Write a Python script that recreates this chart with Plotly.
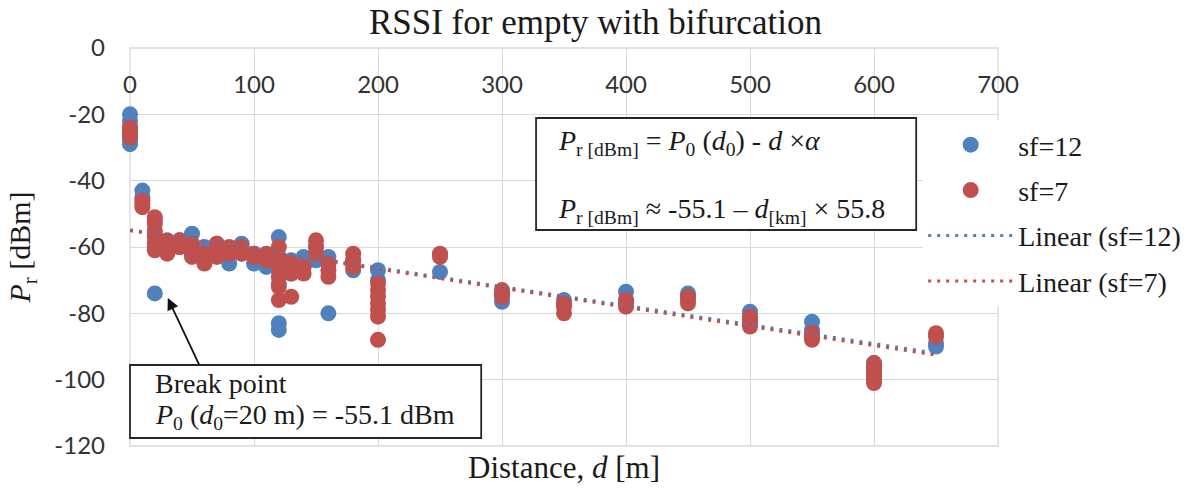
import plotly.graph_objects as go

# ---------------- data ----------------
sf12_x = [0, 0, 0, 0, 0, 0,
          10, 10,
          20, 20, 20, 20,
          30, 30, 40, 40,
          50, 50, 50, 60, 60, 70, 70, 80, 80, 90, 90,
          100, 100, 110, 110,
          120, 120, 120, 120, 120, 120,
          130, 130, 140, 140, 150, 150, 160, 160,
          180, 180, 200, 200,
          250, 300, 300, 350, 400, 400, 450, 450,
          500, 500, 550, 550, 600, 600, 650, 650]
sf12_y = [-20, -22, -24, -26, -28, -29,
          -43, -45,
          -52, -56, -60, -74,
          -59, -61, -58, -60,
          -56, -59, -62, -60, -64, -59, -62, -61, -65, -59, -62,
          -62, -65, -63, -66,
          -57, -63, -67, -71, -83, -85,
          -64, -68, -63, -66, -60, -64, -63, -80,
          -64, -67, -67, -70,
          -67.5, -74, -76.5, -76, -73.5, -76, -74, -75,
          -79.5, -82, -82.5, -85, -95, -97, -90, -89]

sf7_x = [0, 0, 0, 0,
         10, 10, 10,
         20, 20, 20, 20, 20, 20,
         25, 30, 30, 30, 40, 40,
         50, 50, 50, 60, 60, 70, 70, 70, 80, 80, 90, 90,
         100, 100, 110, 110,
         120, 120, 120, 120, 120, 120,
         130, 130, 130, 140, 140, 150, 150, 150,
         160, 160, 160, 180, 180, 180,
         200, 200, 200, 200, 200, 200, 200,
         250, 250, 300, 300, 300, 350, 350, 350,
         400, 400, 400, 450, 450, 450,
         500, 500, 500, 500, 550, 550, 550,
         600, 600, 600, 600, 600, 600, 600, 650, 650]
sf7_y = [-24, -25, -26, -27,
         -46, -47, -48,
         -51, -53, -55, -57, -59, -61,
         -60, -58, -60, -62, -58, -60,
         -59, -61, -63, -62, -65, -59, -61, -63, -60, -62, -60, -62,
         -62, -63, -62, -64,
         -60, -63, -66, -69, -72, -76,
         -65, -68, -75, -66, -68, -58, -60, -62,
         -65, -67, -69, -62, -64, -66,
         -71, -73, -75, -77, -79, -81, -88,
         -62, -63, -73, -74, -75, -77, -78, -80,
         -76, -77, -78, -75, -76, -77,
         -81, -82, -83, -84, -86, -87, -88,
         -95, -96, -97, -98, -99, -100, -101, -86, -87]

# trend lines (end points)
trend_x = [0, 650]
trend_sf12_y = [-54.8, -92.0]
trend_sf7_y = [-55.1, -92.6]

x_ticks = [0, 100, 200, 300, 400, 500, 600, 700]
x_tick_labels = ["0", "100", "200", "300", "400", "500", "600", "700"]
y_ticks = [0, -20, -40, -60, -80, -100, -120]
y_tick_labels = ["0", "-20", "-40", "-60", "-80", "-100", "-120"]

BLUE = "#4F81BD"
RED = "#C0504D"
SERIF = "Liberation Serif"
SANS = "Lato"

# ---------------- figure ----------------
fig = go.Figure()
fig.add_trace(go.Scatter(x=sf12_x, y=sf12_y, mode="markers", name="sf=12",
                         marker=dict(color=BLUE, size=16), cliponaxis=False,
                         legendgroup="a"))
fig.add_trace(go.Scatter(x=sf7_x, y=sf7_y, mode="markers", name="sf=7",
                         marker=dict(color=RED, size=16), cliponaxis=False,
                         legendgroup="b"))
fig.add_trace(go.Scatter(x=trend_x, y=trend_sf12_y, mode="lines", name="Linear (sf=12)",
                         line=dict(color=BLUE, width=3, dash="3px,6px"),
                         legendgroup="c"))
fig.add_trace(go.Scatter(x=trend_x, y=trend_sf7_y, mode="lines", name="Linear (sf=7)",
                         line=dict(color=RED, width=3, dash="3px,6px"),
                         legendgroup="d"))

L, R, T, B = 130, 198, 48, 43
W, H = 1198, 489
PW, PH = W - L - R, H - T - B


def px(xp):
    return (xp - L) / PW


def py(yp):
    return (H - B - yp) / PH


grid = "#d9d9d9"
fig.update_layout(
    width=W, height=H,
    margin=dict(l=L, r=R, t=T, b=B),
    paper_bgcolor="white", plot_bgcolor="white",
    title=dict(text="RSSI for empty with bifurcation", x=0.497, xref="container",
               y=1 - 22 / H, yref="container", yanchor="middle", xanchor="center",
               font=dict(family=SERIF, size=35, color="#1a1a1a")),
    xaxis=dict(range=[0, 700], tickvals=x_ticks, ticktext=x_tick_labels,
               side="bottom", anchor="free", position=py(64),
               ticks="", ticklabelstandoff=4, showline=False,
               showgrid=True, gridcolor=grid, gridwidth=1.3, zeroline=False,
               tickfont=dict(family=SANS, size=24, color="#333333")),
    yaxis=dict(range=[-120, 0], tickvals=y_ticks, ticktext=y_tick_labels,
               ticks="", ticklabelstandoff=24, showline=False,
               showgrid=True, gridcolor=grid, gridwidth=1.3, zeroline=False,
               tickfont=dict(family=SANS, size=24, color="#333333"),
               title=dict(text="<i>P</i><sub>r</sub> [dBm]", standoff=14,
                          font=dict(family=SERIF, size=30, color="#1a1a1a"))),
    legend=dict(x=px(925), y=py(120), xanchor="left", yanchor="top",
                bgcolor="white", borderwidth=0, traceorder="grouped",
                tracegroupgap=6, itemwidth=85,
                font=dict(family=SERIF, size=28, color="#1a1a1a")),
    showlegend=True,
)

# plot-area border (light grey like the gridlines)
fig.add_shape(type="rect", xref="paper", yref="paper", x0=0, x1=1, y0=0, y1=1,
              line=dict(color=grid, width=1.3), layer="below")

# annotation boxes
fig.add_shape(type="rect", xref="paper", yref="paper",
              x0=px(537), x1=px(918), y0=py(230), y1=py(118),
              line=dict(color="#262626", width=1.8), fillcolor="white", layer="above")
fig.add_shape(type="rect", xref="paper", yref="paper",
              x0=px(130), x1=px(482), y0=py(438), y1=py(365),
              line=dict(color="#262626", width=1.8), fillcolor="white", layer="above")

tfont = dict(family=SERIF, size=28, color="#1a1a1a")
fig.add_annotation(xref="paper", yref="paper", x=px(557), y=py(142),
                   xanchor="left", yanchor="middle", showarrow=False, font=tfont,
                   text="<i>P</i><sub>r [dBm]</sub> = <i>P</i><sub>0</sub> (<i>d</i><sub>0</sub>) - <i>d</i> ×<i>α</i>")
fig.add_annotation(xref="paper", yref="paper", x=px(557), y=py(210),
                   xanchor="left", yanchor="middle", showarrow=False, font=tfont,
                   text="<i>P</i><sub>r [dBm]</sub> ≈ -55.1 – <i>d</i><sub>[km]</sub> × 55.8")
fig.add_annotation(xref="paper", yref="paper", x=px(153), y=py(383),
                   xanchor="left", yanchor="middle", showarrow=False, font=tfont,
                   text="Break point")
fig.add_annotation(xref="paper", yref="paper", x=px(153), y=py(416),
                   xanchor="left", yanchor="middle", showarrow=False, font=tfont,
                   text="<i>P</i><sub>0</sub> (<i>d</i><sub>0</sub>=20 m) = -55.1 dBm")
# arrow to break point
fig.add_annotation(x=30.5, y=-75.4, xref="x", yref="y", ax=32, ay=68,
                   text="", showarrow=True, arrowhead=2, arrowsize=1.3,
                   arrowwidth=1.8, arrowcolor="#111111", standoff=0)
# x-axis title at bottom
fig.add_annotation(xref="paper", yref="paper", x=0.5, y=py(467),
                   xanchor="center", yanchor="middle", showarrow=False,
                   text="Distance, <i>d</i> [m]",
                   font=dict(family=SERIF, size=31, color="#1a1a1a"))

fig.write_html("out.html")
